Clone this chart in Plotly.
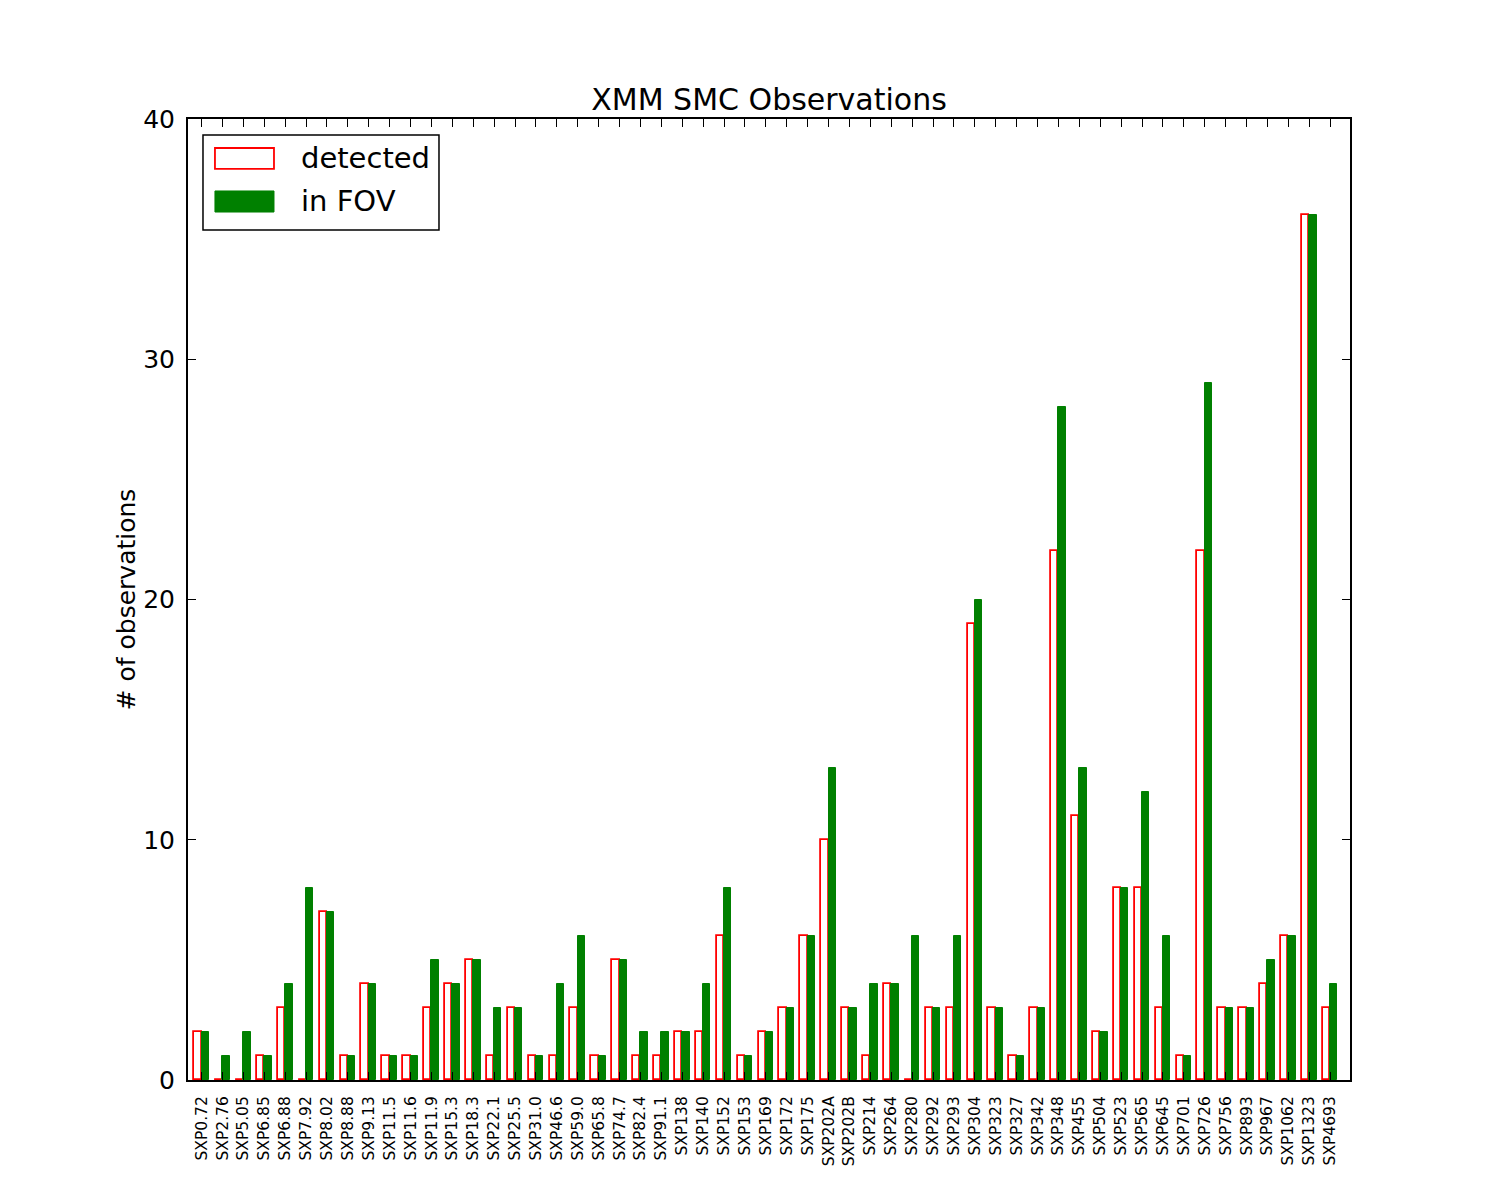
import plotly.graph_objects as go

sources = ["SXP0.72", "SXP2.76", "SXP5.05", "SXP6.85", "SXP6.88", "SXP7.92", "SXP8.02", "SXP8.88",
           "SXP9.13", "SXP11.5", "SXP11.6", "SXP11.9", "SXP15.3", "SXP18.3", "SXP22.1", "SXP25.5",
           "SXP31.0", "SXP46.6", "SXP59.0", "SXP65.8", "SXP74.7", "SXP82.4", "SXP91.1", "SXP138",
           "SXP140", "SXP152", "SXP153", "SXP169", "SXP172", "SXP175", "SXP202A", "SXP202B",
           "SXP214", "SXP264", "SXP280", "SXP292", "SXP293", "SXP304", "SXP323", "SXP327",
           "SXP342", "SXP348", "SXP455", "SXP504", "SXP523", "SXP565", "SXP645", "SXP701",
           "SXP726", "SXP756", "SXP893", "SXP967", "SXP1062", "SXP1323", "SXP4693"]

detected = [2, 0, 0, 1, 3, 0, 7, 1, 4, 1, 1, 3, 4, 5, 1, 3, 1, 1, 3, 1, 5, 1, 1, 2,
            2, 6, 1, 2, 3, 6, 10, 3, 1, 4, 0, 3, 3, 19, 3, 1, 3, 22, 11, 2, 8, 8, 3, 1,
            22, 3, 3, 4, 6, 36, 3]

in_fov = [2, 1, 2, 1, 4, 8, 7, 1, 4, 1, 1, 5, 4, 5, 3, 3, 1, 4, 6, 1, 5, 2, 2, 2,
          4, 8, 1, 2, 3, 6, 13, 3, 4, 4, 6, 3, 6, 20, 3, 1, 3, 28, 13, 2, 8, 12, 6, 1,
          29, 3, 3, 5, 6, 36, 4]

y_ticks = [0, 10, 20, 30, 40]

BAR_W = 0.35
idx = list(range(len(sources)))
FONT = "DejaVu Sans"

fig = go.Figure()
fig.add_trace(go.Bar(
    x=[i + BAR_W / 2 for i in idx], y=detected, width=BAR_W, name="detected",
    marker=dict(color="white", line=dict(color="#ff0000", width=1.8)),
    showlegend=False,
))
fig.add_trace(go.Bar(
    x=[i + BAR_W * 1.5 for i in idx], y=in_fov, width=BAR_W, name="in FOV",
    marker=dict(color="#008000", line=dict(color="#008000", width=1)),
    showlegend=False,
))

# manual legend (matplotlib-style wide swatches)
shapes = [
    dict(type="rect", xref="paper", yref="paper", x0=0.0129, x1=0.2160, y0=0.8845, y1=0.9834,
         line=dict(color="black", width=1.5), fillcolor="white", layer="above"),
    dict(type="rect", xref="paper", yref="paper", x0=0.0232, x1=0.0740, y0=0.9480, y1=0.9698,
         line=dict(color="#ff0000", width=1.8), fillcolor="white", layer="above"),
    dict(type="rect", xref="paper", yref="paper", x0=0.0232, x1=0.0740, y0=0.9032, y1=0.9251,
         line=dict(color="#008000", width=1), fillcolor="#008000", layer="above"),
]
annotations = [
    dict(text="detected", xref="paper", yref="paper", x=0.0955, y=0.9594, xanchor="left",
         yanchor="middle", showarrow=False, font=dict(family=FONT, size=29, color="black")),
    dict(text="in FOV", xref="paper", yref="paper", x=0.0955, y=0.9147, xanchor="left",
         yanchor="middle", showarrow=False, font=dict(family=FONT, size=29, color="black")),
]

fig.update_layout(
    width=1500, height=1200,
    margin=dict(l=188, r=150, t=119, b=120, pad=0),
    paper_bgcolor="white", plot_bgcolor="white",
    barmode="overlay", bargap=0,
    font=dict(family=FONT, color="black"),
    title=dict(text="XMM SMC Observations", x=0.5127, xanchor="center", y=0.9175, yanchor="middle",
               font=dict(family=FONT, size=30, color="black")),
    shapes=shapes, annotations=annotations,
    xaxis=dict(
        range=[-0.3, 55.3], tickmode="array", tickvals=[i + BAR_W for i in idx], ticktext=sources,
        tickangle=-90, tickfont=dict(family=FONT, size=15.5, color="black"),
        ticks="inside", ticklen=8, tickwidth=1, tickcolor="black",
        showline=True, linecolor="black", linewidth=2, mirror="ticks",
        showgrid=False, zeroline=False, ticklabelstandoff=8,
    ),
    yaxis=dict(
        range=[0, 40], tickmode="array", tickvals=y_ticks, ticktext=[str(v) for v in y_ticks],
        tickfont=dict(family=FONT, size=25, color="black"),
        ticks="inside", ticklen=8, tickwidth=1, tickcolor="black",
        showline=True, linecolor="black", linewidth=2, mirror="ticks",
        showgrid=False, zeroline=False, ticklabelstandoff=6,
        title=dict(text="# of observations", font=dict(family=FONT, size=25, color="black"), standoff=0),
    ),
)

fig.write_html("out.html")
